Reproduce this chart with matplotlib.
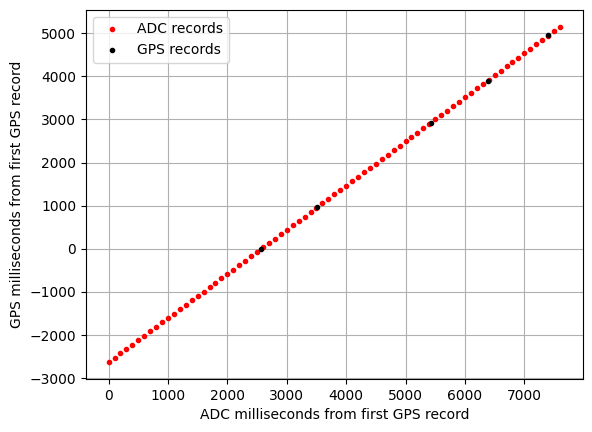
import matplotlib
matplotlib.use("Agg")
import matplotlib.pyplot as plt

# ADC records, one every 100 ms
adc_ms = [0, 100, 200, 300, 400, 500, 600, 700, 800, 900,
          1000, 1100, 1200, 1300, 1400, 1500, 1600, 1700, 1800, 1900,
          2000, 2100, 2200, 2300, 2400, 2500, 2600, 2700, 2800, 2900,
          3000, 3100, 3200, 3300, 3400, 3500, 3600, 3700, 3800, 3900,
          4000, 4100, 4200, 4300, 4400, 4500, 4600, 4700, 4800, 4900,
          5000, 5100, 5200, 5300, 5400, 5500, 5600, 5700, 5800, 5900,
          6000, 6100, 6200, 6300, 6400, 6500, 6600, 6700, 6800, 6900,
          7000, 7100, 7200, 7300, 7400, 7500, 7600]
adc_gps_ms = [-2630, -2528, -2425, -2323, -2220, -2118, -2016, -1913, -1811, -1708,
              -1606, -1504, -1401, -1299, -1196, -1094, -992, -889, -787, -684,
              -582, -480, -377, -275, -172, -70, 32, 135, 237, 340,
              442, 544, 647, 749, 852, 954, 1056, 1159, 1261, 1364,
              1466, 1568, 1671, 1773, 1876, 1978, 2080, 2183, 2285, 2388,
              2490, 2592, 2695, 2797, 2900, 3002, 3104, 3207, 3309, 3412,
              3514, 3616, 3719, 3821, 3924, 4026, 4128, 4231, 4333, 4436,
              4538, 4640, 4743, 4845, 4948, 5050, 5152]

# GPS records
gps_adc_ms = [2570, 3505, 5430, 6380, 7400]
gps_ms = [0, 960, 2930, 3900, 4950]

fig = plt.figure(figsize=(5.92, 4.32), dpi=100)
plt.subplots_adjust(left=0.1453, right=0.984, top=0.977, bottom=0.1227)
plt.plot(adc_ms, adc_gps_ms, 'r.', label='ADC records')
plt.plot(gps_adc_ms, gps_ms, 'k.', label='GPS records')
plt.xlabel('ADC milliseconds from first GPS record')
plt.ylabel('GPS milliseconds from first GPS record')
plt.grid(True)
plt.legend(loc='upper left')
plt.savefig('out.png', dpi=100)
